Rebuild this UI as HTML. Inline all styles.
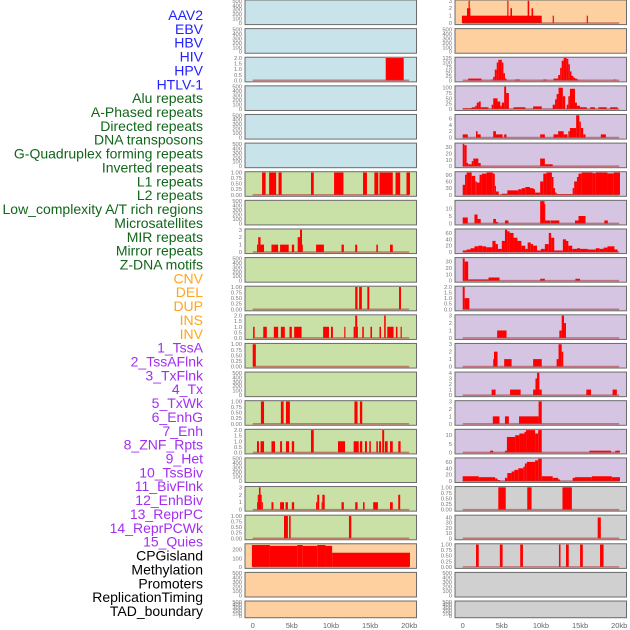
<!DOCTYPE html>
<html><head><meta charset="utf-8"><style>
html,body{margin:0;padding:0;background:#fff;}
svg{display:block;font-family:"Liberation Sans",sans-serif;}
</style></head><body>
<svg id="chart" width="630" height="630" viewBox="0 0 630 630"></svg>
<script>
const labels = ["AAV2","EBV","HBV","HIV","HPV","HTLV-1","Alu repeats","A-Phased repeats","Directed repeats","DNA transposons","G-Quadruplex forming repeats","Inverted repeats","L1 repeats","L2 repeats","Low_complexity A/T rich regions","Microsatellites","MIR repeats","Mirror repeats","Z-DNA motifs","CNV","DEL","DUP","INS","INV","1_TssA","2_TssAFlnk","3_TxFlnk","4_Tx","5_TxWk","6_EnhG","7_Enh","8_ZNF_Rpts","9_Het","10_TssBiv","11_BivFlnk","12_EnhBiv","13_ReprPC","14_ReprPCWk","15_Quies","CPGisland","Methylation","Promoters","ReplicationTiming","TAD_boundary"];
const labelGroups = [6,13,5,15,5];
const groupColors = ["#2222ff","#11661a","#ffa51f","#a22ff0","#000000"];
const xTicks = [0,5,10,15,20];
const xTickLabels = ["0","5kb","10kb","15kb","20kb"];
const leftBg = ["b","b","b","b","b","b","g","g","g","g","g","g","g","g","g","g","g","g","g","o","o","o"];
const rightBg = ["o","o","p","p","p","p","p","p","p","p","p","p","p","p","p","p","p","g2","g2","g2","g2","g2"];
const E = [0,100,200,300,400,500];
const Q = [0,0.25,0.5,0.75,1];
const Q2 = [0,0.5,1,1.5,2];
const leftTicks = [E,E,Q2,E,E,E,Q,E,[0,1,2,3],E,Q,Q2,Q,E,Q,Q2,E,[0,1,2,3],Q,[0,100,200],E,E];
const leftMax = [500,500,2,500,500,500,1,500,3,500,1,2,1,500,1,2,500,3,1,260,500,500];
const rightTicks = [[0,1,2,3],E,[0,25,50,75,100,125],[0,25,50,75,100],[0,2,4,6],[0,10,20,30],[0,30,60,90],[0,5,10],[0,20,40,60],[0,10,20,30],Q2,[0,1,2,3],[0,1,2,3],[0,1,2,3,4],[0,1,2,3],[0,5,10],[0,20,40,60],Q,[0,10,20,30,40],Q,E,E];
const rightMax = [3,500,125,105,7,35,100,15,70,35,2,3,3,4,3,13,70,1,43,1,500,500];
// segments: [startKb, endKb, value]
const leftData = [
 [],[],
 [[17.0,19.3,2]],
 [],[],[],
 [[1.2,1.65,1],[2.1,3.0,1],[3.3,3.7,1],[7.45,7.8,1],[10.4,11.6,1],[14.1,14.6,1],[15.55,16.05,1],[16.2,17.9,1],[18.25,18.85,1],[19.65,20.1,1]],
 [],
 [[0.55,0.7,1],[0.7,1.0,2],[1.0,1.45,1],[2.4,2.65,1],[2.65,3.25,1],[3.5,4.6,1],[5.0,5.3,1],[5.75,6.05,2],[6.05,6.3,3],[6.3,6.4,1],[8.1,9.1,1],[11.35,11.65,1],[13.1,13.35,1],[15.8,16.0,1],[17.55,17.9,1]],
 [],
 [[13.1,13.4,1],[13.6,13.95,1],[14.65,14.9,1],[18.7,18.95,1]],
 [[0.05,0.25,1],[1.35,1.8,1],[2.7,3.25,1],[3.6,4.1,1],[4.7,5.0,1],[5.3,6.25,1],[9.0,9.75,1],[10.0,10.25,1],[11.7,11.85,1],[12.9,13.1,1],[13.1,13.35,2],[13.35,13.45,1],[14.0,14.2,1],[15.05,15.25,1],[16.2,16.4,1],[16.8,17.0,2],[17.2,18.0,1],[18.3,18.5,1],[18.9,19.05,1]],
 [[0,0.4,1]],
 [],
 [[1.05,1.45,1],[3.6,3.95,1],[4.25,4.75,1],[13.0,13.4,1],[13.7,14.0,1]],
 [[0.55,0.8,1],[1.0,1.45,1],[2.4,2.85,1],[3.5,3.75,1],[4.25,4.65,1],[5.0,5.3,1],[7.45,7.8,2],[10.9,11.8,1],[12.9,13.55,1],[13.7,14.0,1],[14.35,14.6,1],[14.9,15.1,1],[15.8,16.0,1],[16.15,16.4,1],[16.55,16.8,2],[16.9,17.25,1],[17.55,17.9,1],[18.6,18.9,1]],
 [],
 [[0.55,0.65,1],[0.65,0.8,2],[0.8,1.0,3],[1.0,1.15,2],[1.15,1.3,1],[2.4,2.65,1],[3.5,4.0,1],[4.2,4.5,1],[5.0,5.3,1],[8.1,8.25,1],[8.25,8.5,2],[8.8,8.9,1],[8.9,9.2,2],[11.35,11.65,1],[13.1,13.4,1],[14.1,14.3,1],[15.4,16.0,1],[17.55,17.9,1],[18.6,18.85,2]],
 [[4.0,4.5,1],[4.65,4.85,1],[12.3,12.6,1]],
 [[-0.1,2.2,255],[2.2,5.7,245],[5.7,6.4,255],[6.4,8.25,245],[8.25,9.3,255],[9.3,10.15,245],[10.15,20.1,165]],
 [],[]
];
const rightData = [
 [[-0.1,10.1,1],[0.55,0.98,2],[0.75,0.9,3],[5.7,5.85,3],[6.1,6.3,2],[8.3,8.5,3],[8.8,9.0,2],[11.5,11.65,1],[15.85,16.0,1]],
 [],
 [[0.7,2.4,10],[3.7,3.9,5],[3.9,4.1,20],[4.1,4.35,60],[4.35,4.55,100],[4.55,5.0,115],[5.0,5.2,100],[5.2,5.4,40],[5.4,5.6,10],[6.7,7.3,5],[10.3,10.7,5],[11.6,12.2,10],[12.2,12.45,30],[12.45,12.65,70],[12.65,12.9,110],[12.9,13.3,125],[13.3,13.5,120],[13.5,13.7,90],[13.7,13.9,50],[13.9,14.15,25],[14.15,14.35,15],[14.35,14.6,10],[14.6,14.8,5],[19.3,19.5,5]],
 [[0,1.15,3],[1.15,1.6,8],[1.6,1.8,15],[1.8,2.05,30],[2.05,2.3,35],[2.3,3.3,8],[3.7,3.9,20],[3.9,4.45,50],[4.45,4.8,35],[4.8,5.0,15],[5.0,5.3,30],[5.3,5.55,105],[5.55,5.9,75],[6.5,8.0,8],[9.0,10.1,12],[11.5,11.8,20],[11.8,12.0,45],[12.0,12.25,70],[12.25,12.8,100],[12.8,13.1,60],[13.3,13.5,20],[13.5,13.7,60],[13.7,14.35,95],[14.35,14.6,30],[14.6,15.0,15],[15.0,15.85,8],[16.3,16.9,8],[17.35,18.4,8],[18.85,19.8,8]],
 [[0,0.65,1],[1.7,1.9,2],[1.9,2.3,1],[3.9,4.25,2],[4.25,5.1,1],[5.3,5.6,1],[9.9,10.5,1],[11.6,12.2,1],[12.2,12.9,2],[12.9,13.4,1],[13.5,13.7,2],[13.7,14.5,3],[14.5,14.9,7],[14.9,15.1,5],[15.1,15.4,3],[15.4,15.7,1],[17.65,18.3,1]],
 [[0,0.2,35],[0.2,0.5,33],[0.5,0.7,5],[0.7,1.15,3],[1.15,1.35,8],[1.35,2.0,12],[2.0,2.3,5],[9.9,10.5,12],[10.5,11.5,3]],
 [[0,0.3,45],[0.3,0.5,90],[0.5,1.15,100],[1.15,1.6,85],[1.6,1.8,60],[1.8,2.15,55],[2.15,2.45,90],[2.45,3.05,95],[3.05,3.85,100],[3.85,4.1,95],[4.1,4.25,40],[4.25,4.6,15],[5.0,5.7,5],[5.7,7.1,20],[7.1,7.55,25],[7.55,8.0,30],[8.0,8.6,35],[8.6,9.05,30],[9.05,9.25,25],[9.25,9.9,10],[9.9,10.3,60],[10.3,10.7,95],[10.7,11.4,100],[11.4,11.6,80],[11.6,11.8,30],[11.8,12.0,10],[12.0,14.05,3],[14.05,14.25,30],[14.25,14.6,60],[14.6,14.8,80],[14.8,15.2,95],[15.2,16.6,100],[16.6,17.0,97],[17.0,18.5,100],[18.5,19.3,96],[19.3,20.1,100]],
 [[0,0.65,4],[1.5,1.9,6],[1.9,2.3,3],[3.9,4.25,3],[4.25,4.5,1],[5.4,5.85,2],[9.9,10.45,15],[10.45,10.5,13],[10.5,11.2,2],[11.25,12.35,2],[14.35,14.8,2],[14.8,15.7,5],[18.1,18.55,2]],
 [[0,0.5,5],[0.5,1,8],[1,1.5,12],[1.5,2,18],[2,2.5,20],[2.5,3,18],[3,3.8,15],[3.8,4.2,35],[4.2,4.5,25],[4.5,5.0,10],[5.0,5.4,35],[5.4,5.7,70],[5.7,6.0,65],[6.0,6.5,60],[6.5,7,45],[7,7.5,35],[7.5,8,20],[8,8.3,10],[8.3,8.7,30],[8.7,9.0,25],[9,9.5,20],[9.5,10,5],[10,10.5,10],[10.5,11,25],[11,11.3,60],[11.3,11.7,45],[11.7,12.8,5],[12.8,13.2,40],[13.2,13.5,35],[13.5,14,20],[14,14.6,10],[14.6,15,12],[15,16,10],[16,17,8],[17,17.5,12],[17.5,18,10],[18,18.5,14],[18.5,19.4,18],[19.4,19.8,8]],
 [[0,0.25,35],[0.25,0.7,30],[0.7,3.3,2],[3.3,4.7,5],[9.9,10.5,3],[14.4,15.0,3]],
 [[0,0.25,2],[0.25,0.85,1]],
 [[4.4,5.6,1],[12.35,12.65,1],[12.65,12.95,3],[12.95,13.2,2]],
 [[3.9,4.0,1],[4.0,4.45,2],[5.3,6.25,1],[9.0,10.1,1],[12.0,12.25,1],[12.25,12.65,3],[12.65,12.85,2]],
 [[3.7,4.2,1],[6.05,7.4,1],[9.0,9.3,1],[9.3,9.5,3],[9.5,9.8,4],[9.8,10.1,1],[15.8,16.4,1],[19.15,19.7,1]],
 [[3.85,4.7,1],[5.4,5.9,1],[7.2,9.7,1],[9.7,10.1,3]],
 [[3.5,3.9,1],[5.4,5.65,1],[5.65,6.7,9],[6.7,7.25,10],[7.25,7.9,11],[7.9,8.1,12],[8.1,9.25,13],[9.25,9.65,11],[9.65,10.1,13],[16.2,18.95,1],[19.5,20.1,1]],
 [[0,2.05,15],[2.05,4.15,12],[4.15,4.45,8],[4.45,4.8,3],[5.4,5.7,10],[5.7,6.25,25],[6.25,6.6,30],[6.6,7.1,35],[7.1,7.75,40],[7.75,7.95,45],[7.95,8.2,55],[8.2,9.25,60],[9.25,9.65,65],[9.65,10.1,70],[10.1,11.5,15],[11.5,12.2,10],[12.2,12.45,5],[14.05,14.35,10],[14.35,16.5,12],[16.5,19.05,15],[19.05,20.1,12]],
 [[4.55,5.5,1],[8.25,8.8,1],[12.75,13.95,1]],
 [[17.25,17.65,40]],
 [[1.7,2.05,1],[4.75,5.1,1],[7.35,7.7,1],[12.3,12.5,1],[13.2,13.55,1],[15.0,15.35,1],[17.55,18.0,1]],
 [],[]
];

const NS = "http://www.w3.org/2000/svg";
const svg = document.getElementById("chart");
const BG = {b:"#c8e4ea",g:"#c9e1a6",o:"#fecf9f",p:"#d5c5e2",g2:"#d0d0d0"};
function mk(tag, attrs, parent){const e=document.createElementNS(NS,tag);for(const k in attrs)e.setAttribute(k,attrs[k]);(parent||svg).appendChild(e);return e;}
function rowTop(i){return i*28.62;}
function rowH(i){return i===21?16.7:24.6;}
const cols=[{x0:245,x1:416.5,z:252.7,bg:leftBg,ticks:leftTicks,max:leftMax,data:leftData,name:"left"},
            {x0:455,x1:626.5,z:462.7,bg:rightBg,ticks:rightTicks,max:rightMax,data:rightData,name:"right"}];
const kbPx = (409.2-252.7)/20;
function xScale(col,kb){return col.z+kb*kbPx;}
function yScale(top,h,max,v){const b=top+h-1.5, t=top+0.8;return b-(v/max)*(b-t);}

for(let c=0;c<2;c++){
 const col=cols[c];
 for(let i=0;i<22;i++){
  const top=rowTop(i), h=rowH(i), max=col.max[i];
  const g=mk("g",{});
  
  
  mk("rect",{x:col.x0,y:top,width:col.x1-col.x0,height:h,fill:BG[col.bg[i]],stroke:"#6b6b6b","stroke-width":1},g);
  for(const s of col.data[i]){
    const x0=xScale(col,Math.max(s[0],-0.1)), x1=xScale(col,s[1]);
    const y=yScale(top,h,max,s[2]), y0=yScale(top,h,max,0);
    const r=mk("rect",{x:x0,y:y,width:Math.max(x1-x0,0.8),height:y0-y,fill:"#ff0000"},g);
    
    
  }
  if(col.data[i].length){
    const yb=yScale(top,h,max,0);
    mk("line",{x1:xScale(col,0),x2:xScale(col,20),y1:yb,y2:yb,stroke:"#b03030","stroke-opacity":0.55,"stroke-width":1.6},g);
  }
  for(const t of col.ticks[i]){
    const lbl = (col.ticks[i]===Q)? t.toFixed(2) : (col.ticks[i]===Q2? t.toFixed(1): String(t));
    const tx=mk("text",{x:col.x0-3,y:yScale(top,h,max,t)+2,"font-size":5.8,fill:"#777","text-anchor":"end"},g);
    tx.textContent=lbl;
    
    
  }
 }
 for(let k=0;k<xTicks.length;k++){
  const tx=mk("text",{x:xScale(col,xTicks[k]),y:628,"font-size":7.5,fill:"#666","text-anchor":"middle"});
  tx.textContent=xTickLabels[k];
  
  
 }
}
let idx=0;
for(let gI=0;gI<labelGroups.length;gI++){
 for(let j=0;j<labelGroups[gI];j++){
  const tx=mk("text",{x:203,y:20+idx*13.86,"font-size":14,fill:groupColors[gI],"text-anchor":"end"});
  tx.textContent=labels[idx];
  
  
  idx++;
 }
}
</script>
</body></html>
